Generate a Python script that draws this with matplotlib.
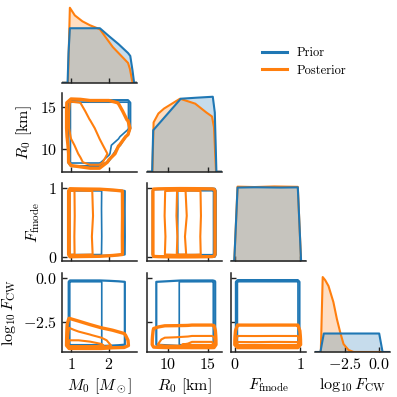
import numpy as np
import matplotlib
matplotlib.use("Agg")
import matplotlib.pyplot as plt
from matplotlib.lines import Line2D

plt.rcParams.update({
    "font.family": "serif",
    "font.serif": ["cmr10"],
    "mathtext.fontset": "cm",
    "axes.formatter.use_mathtext": True,
    "axes.unicode_minus": True,
})

BLUE, ORANGE = "#1f77b4", "#ff7f0e"

# ---------------- data ----------------
var_labels = [r"$M_0$ [$M_\odot$]", r"$R_0$ [km]", r"$F_{\rm fmode}$", r"$\log_{10} F_{\rm CW}$"]
series_names = ["Prior", "Posterior"]
ticks = [[1, 2], [10, 15], [0, 1], [-2.5, 0.0]]
xlims = [(0.763, 2.737), (7.375, 16.75), (-0.06, 1.085), (-4.7, 0.85)]
ylims = [None, (7.39, 16.64), (-0.06, 1.08), (-4.22, 0.29)]

# 1-D marginal densities (relative units)
m0_prior_x = [0.763, 0.91, 0.935, 0.97, 1.76, 2.0, 2.25, 2.5, 2.56, 2.62, 2.66, 2.737]
m0_prior_y = [0, 0, 30, 55, 55, 47, 39, 30, 27, 12, 0, 0]
m0_post_x = [0.763, 0.92, 0.97, 1.1, 1.3, 1.5, 1.76, 2.1, 2.5, 2.55, 2.62, 2.737]
m0_post_y = [0, 0, 75.7, 68, 62, 58, 54, 36, 20, 14, 0, 0]

r0_prior_x = [7.375, 8.02, 8.15, 11.6, 13.5, 15.6, 15.85, 16.05, 16.75]
r0_prior_y = [0, 0, 42, 74, 75, 76, 60, 0, 0]
r0_post_x = [7.375, 8.05, 8.2, 8.8, 9.5, 11.5, 13.4, 14.8, 15.5, 15.75, 16.0, 16.75]
r0_post_y = [0, 0, 50, 59, 64, 74, 69, 60, 56, 45, 0, 0]

ff_prior_x = [-0.06, -0.01, 0.04, 0.3, 0.7, 0.96, 1.01, 1.085]
ff_prior_y = [0, 0, 73.3, 73.6, 73.3, 73.5, 0, 0]
ff_post_x = [-0.06, -0.01, 0.04, 0.3, 0.6, 0.96, 1.01, 1.085]
ff_post_y = [0, 0, 74.2, 73.8, 74.4, 74.0, 0, 0]

fcw_prior_x = [-4.7, -4.3, -4.05, 0.05, 0.3, 0.85]
fcw_prior_y = [0, 0, 18.5, 18.5, 0, 0]
fcw_post_x = [-4.7, -4.27, -4.13, -3.95, -3.7, -3.34, -3.08, -2.84, -2.59, -2.22, -1.84, 0.85]
fcw_post_y = [0, 0, 75, 72, 66, 50, 33, 20, 8, 2, 0, 0]

# profiles (log10 F_CW and R0 in the F_CW row)
fcw2d_prior_x = [-4.25, -4.0, -3.8, -0.2, 0.0, 0.3]
fcw2d_prior_y = [0, 0, 1, 1, 0, 0]
fcw2d_post_x = [-4.25, -4.0, -3.8, -3.5, -3.3, -3.0, -2.7, -2.4, -2.0, 0.3]
fcw2d_post_y = [0, 0, 1, 0.85, 0.64, 0.4, 0.16, 0.03, 0, 0]
r0cw_post_x = [7.375, 7.95, 8.2, 8.8, 9.6, 11.0, 12.5, 13.0, 15.5, 15.75, 16.05, 16.75]
r0cw_post_y = [0, 0, 0.5, 0.66, 0.86, 0.89, 0.95, 1.0, 1.0, 0.9, 0, 0]

# joint M0-R0 densities (rows: R0 nodes, cols: M0 nodes)
mr_m0 = [0.85, 1.0, 1.25, 1.5, 1.75, 2.0, 2.25, 2.5, 2.62]
mr_r0 = [7.6, 8.5, 9.5, 10.5, 11.5, 12.5, 13.5, 14.5, 15.5, 16.1]
mr_prior = [
    [0, 0, 0, 0, 0, 0, 0, 0, 0],
    [0, 1, 1, 1, 1, 0.39, 0, 0, 0],
    [0, 1, 1, 1, 1, 1, 0, 0, 0],
    [0, 1, 1, 1, 1, 1, 0.6, 0, 0],
    [0, 1, 1, 1, 1, 1, 1, 0.33, 0],
    [0, 1, 1, 1, 1, 1, 1, 1, 0],
    [0, 1, 1, 1, 1, 1, 1, 1, 0],
    [0, 1, 1, 1, 1, 1, 1, 1, 0],
    [0, 1, 1, 1, 1, 1, 1, 1, 0],
    [0, 0, 0, 0, 0, 0, 0, 0, 0],
]
mr_post = [
    [0, 0, 0, 0, 0, 0, 0, 0, 0],
    [0, 0.35, 0.5, 0.9, 0.9, 0.05, 0, 0, 0],
    [0, 0.35, 0.68, 0.9, 0.9, 0.54, 0, 0, 0],
    [0, 0.43, 0.9, 0.9, 0.7, 0.42, 0.22, 0, 0],
    [0, 0.65, 0.9, 0.9, 0.57, 0.35, 0.35, 0.15, 0],
    [0, 0.9, 0.9, 0.9, 0.3, 0.35, 0.35, 0.35, 0],
    [0, 0.9, 0.9, 0.59, 0.35, 0.35, 0.35, 0.18, 0],
    [0, 0.9, 0.9, 0.3, 0.35, 0.35, 0.35, 0.01, 0],
    [0, 0.75, 0.59, 0.35, 0.35, 0.35, 0.18, 0, 0],
    [0, 0, 0, 0, 0, 0, 0, 0, 0],
]

# joint log10 F_CW - M0 posterior (rows: F_CW nodes, cols: M0 nodes)
cm_m0 = [0.87, 0.95, 1.2, 1.5, 1.8, 2.1, 2.4, 2.6]
cm_fcw = [-4.05, -3.85, -3.55, -3.25, -2.95, -2.65, -2.35, -2.05]
cm_post = [
    [0, 0, 0, 0, 0, 0, 0, 0],
    [0, 1.0, 1.0, 1.0, 0.95, 0.42, 0.34, 0],
    [0, 0.85, 0.85, 0.8, 0.62, 0.36, 0.3, 0],
    [0, 0.7, 0.6, 0.52, 0.38, 0.26, 0.18, 0],
    [0, 0.55, 0.45, 0.32, 0.2, 0.14, 0.08, 0],
    [0, 0.42, 0.25, 0.15, 0.07, 0.03, 0, 0],
    [0, 0.18, 0.1, 0.03, 0, 0, 0, 0],
    [0, 0.04, 0, 0, 0, 0, 0, 0],
]


def nrm(a):
    a = np.asarray(a, float)
    return a / a.max()


# ---------------- layout ----------------
fig = plt.figure(figsize=(3.97, 3.97), dpi=100)
S = 397.0
lefts = [62, 147, 231, 315]
tops = [4, 93, 182.7, 273.3]
W, H = 75, 78.7
axes = {}
for i in range(4):
    for j in range(i + 1):
        axes[(i, j)] = fig.add_axes([lefts[j] / S, 1 - (tops[i] + H) / S, W / S, H / S])

SPC = "#222222"
for (i, j), ax in axes.items():
    for s in ["top", "right"]:
        ax.spines[s].set_visible(False)
    ax.spines["left"].set_color(SPC)
    ax.spines["bottom"].set_color(SPC)
    ax.spines["left"].set_linewidth(1.1)
    ax.spines["bottom"].set_linewidth(1.1)
    ax.tick_params(direction="in", length=3.5, width=1.0, colors=SPC, labelsize=11.5,
                   pad=3.5, labelcolor="black")
    ax.set_xlim(*xlims[j])
    ax.set_xticks(ticks[j])
    if i == j:
        ax.spines["left"].set_visible(False)
        ax.set_yticks([])
    else:
        ax.set_ylim(*ylims[i])
        ax.set_yticks(ticks[i])
    if i != 3:
        ax.tick_params(labelbottom=False)
    else:
        ax.set_xlabel(var_labels[j], fontsize=11.5, labelpad=3)
    if j != 0 or i == 0:
        ax.tick_params(labelleft=False)
    else:
        ax.set_ylabel(var_labels[i], fontsize=11.5, labelpad=4)

# ---------------- diagonal ----------------
diag = [
    ((m0_prior_x, m0_prior_y), (m0_post_x, m0_post_y)),
    ((r0_prior_x, r0_prior_y), (r0_post_x, r0_post_y)),
    ((ff_prior_x, ff_prior_y), (ff_post_x, ff_post_y)),
    ((fcw_prior_x, fcw_prior_y), (fcw_post_x, fcw_post_y)),
]
for k, (pr, po) in enumerate(diag):
    ax = axes[(k, k)]
    for (x, y), c in ((po, ORANGE), (pr, BLUE)):
        ax.fill_between(x, y, 0, color=c, alpha=0.25, lw=0)
        ax.plot(x, y, color=c, lw=1.5)
    ymax = max(max(pr[1]), max(po[1]))
    ax.set_ylim(0, 1.05 * ymax)


def cont(ax, x, y, z, levels, color, lws):
    ax.contour(x, y, np.asarray(z, float), levels=levels, colors=[color],
               linewidths=lws)


BL = [1.6, 1.2]
OL = [2.4, 1.5, 1.5]

# R0 vs M0
ax = axes[(1, 0)]
cont(ax, mr_m0, mr_r0, mr_prior, [0.5, 0.9], BLUE, BL)
cont(ax, mr_m0, mr_r0, mr_post, [0.2, 0.6], ORANGE, OL[:2])

# Ffmode vs M0
ax = axes[(2, 0)]
cont(ax, m0_prior_x, ff_prior_x, np.outer(nrm(ff_prior_y), nrm(m0_prior_y)), [0.6, 0.97], BLUE, BL)
cont(ax, m0_post_x, ff_post_x, np.outer(nrm(ff_post_y), nrm(m0_post_y)), [0.34, 0.75, 0.9], ORANGE, OL)

# Ffmode vs R0
ax = axes[(2, 1)]
cont(ax, r0_prior_x, ff_prior_x, np.outer(nrm(ff_prior_y), nrm(r0_prior_y)), [0.3, 0.925], BLUE, BL)
cont(ax, r0_post_x, ff_post_x, np.outer(nrm(ff_post_y), nrm(r0_post_y)), [0.3, 0.87, 0.97], ORANGE, OL)

# FCW vs M0
ax = axes[(3, 0)]
cont(ax, m0_prior_x, fcw2d_prior_x, np.outer(nrm(fcw2d_prior_y), nrm(m0_prior_y)), [0.6, 0.97], BLUE, BL)
cont(ax, cm_m0, cm_fcw, cm_post, [0.15, 0.5, 0.85], ORANGE, OL)

# FCW vs R0
ax = axes[(3, 1)]
cont(ax, r0_prior_x, fcw2d_prior_x, np.outer(nrm(fcw2d_prior_y), nrm(r0_prior_y)), [0.6, 0.95], BLUE, BL)
cont(ax, r0cw_post_x, fcw2d_post_x, np.outer(nrm(fcw2d_post_y), nrm(r0cw_post_y)), [0.15, 0.64, 0.92], ORANGE, OL)

# FCW vs Ffmode
ax = axes[(3, 2)]
cont(ax, ff_prior_x, fcw2d_prior_x, np.outer(nrm(fcw2d_prior_y), nrm(ff_prior_y)), [0.5, 0.95], BLUE, BL)
cont(ax, ff_post_x, fcw2d_post_x, np.outer(nrm(fcw2d_post_y), nrm(ff_post_y)), [0.15, 0.64, 0.92], ORANGE, OL)

# ---------------- legend ----------------
handles = [Line2D([], [], color=BLUE, lw=2.2), Line2D([], [], color=ORANGE, lw=2.2)]
fig.legend(handles, series_names, loc="center left", bbox_to_anchor=(262 / S, 1 - 61.7 / S),
           frameon=False, fontsize=9, borderpad=0, borderaxespad=0, handlelength=2.0,
           handletextpad=0.75, labelspacing=0.45)

fig.savefig("out.png", dpi=100)
